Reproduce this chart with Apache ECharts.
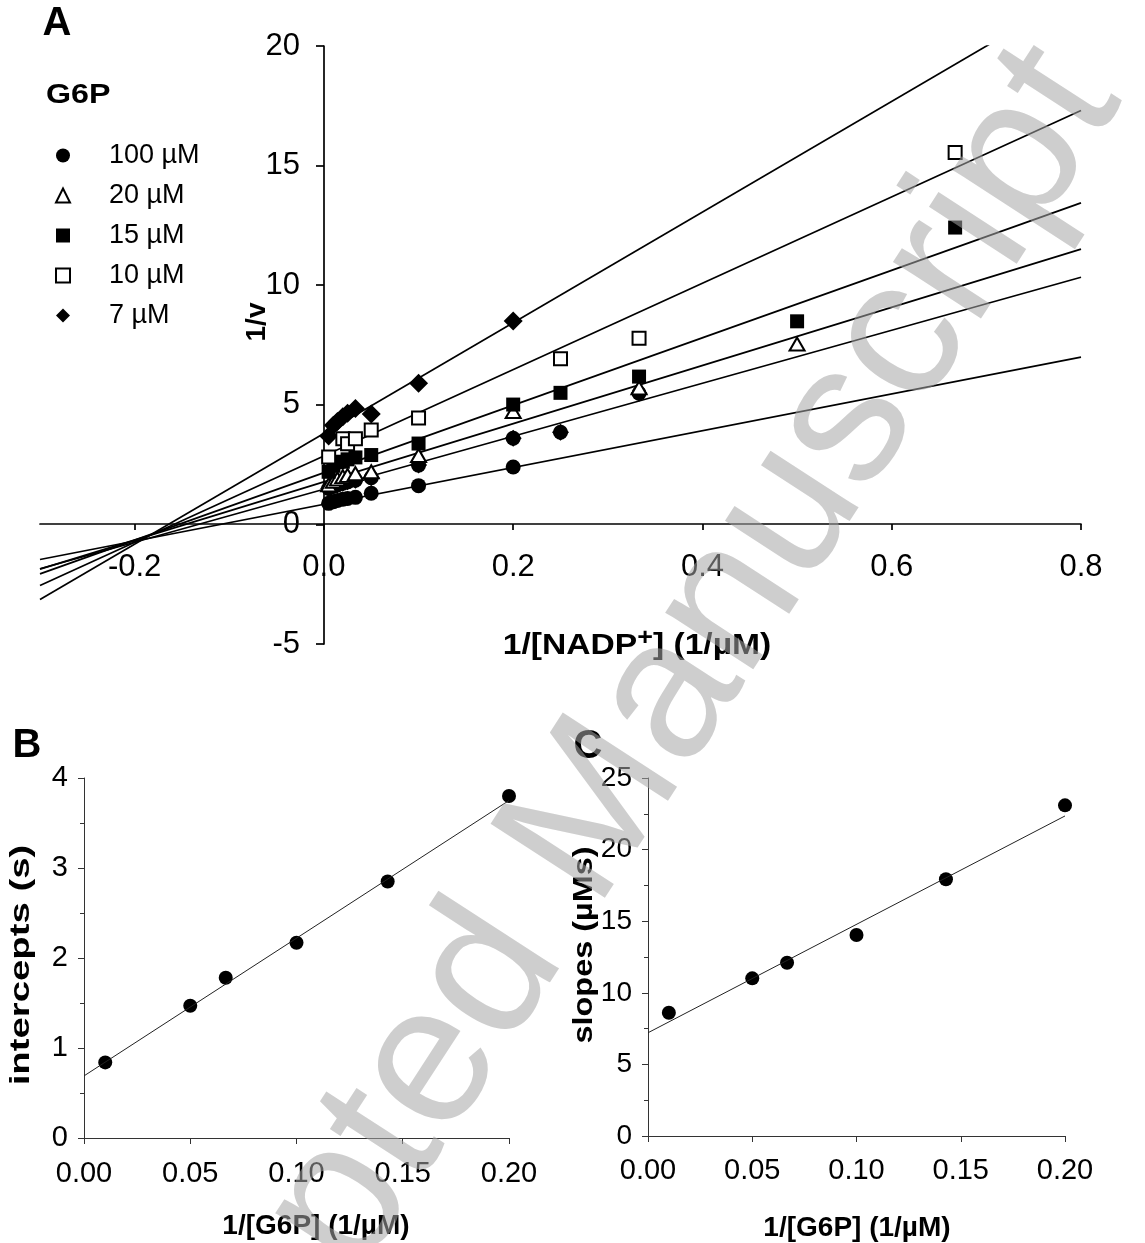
<!DOCTYPE html>
<html><head><meta charset="utf-8">
<script src="https://cdn.jsdelivr.net/npm/echarts@6/dist/echarts.min.js"></script>
<style>html,body{margin:0;padding:0;background:#fff}#c{width:1145px;height:1243px}</style>
</head><body><div id="c"></div>
<script>
// ---------- Panel A data: 1/[NADP+] vs 1/v ----------
const legendNames = ['100 µM', '20 µM', '15 µM', '10 µM', '7 µM'];
const circle100 = [[0.005,0.88],[0.01,0.95],[0.0143,1.0],[0.02,1.05],[0.025,1.08],[0.0333,1.13],[0.05,1.3],[0.1,1.62],[0.2,2.4]];
const unlabelled = [[0.005,1.5],[0.01,1.6],[0.0143,1.65],[0.02,1.72],[0.025,1.78],[0.0333,1.85],[0.05,1.95],[0.1,2.48],[0.2,3.6],[0.25,3.85],[0.333,5.48]];
const triangle20 = [[0.005,1.65],[0.01,1.8],[0.0143,1.9],[0.02,2.0],[0.025,2.05],[0.0333,2.12],[0.05,2.2],[0.1,2.88],[0.2,4.72],[0.333,5.71],[0.5,7.54]];
const square15 = [[0.005,2.2],[0.01,2.45],[0.0143,2.6],[0.02,2.62],[0.025,2.72],[0.0333,2.8],[0.05,2.9],[0.1,3.38],[0.2,5.01],[0.25,5.5],[0.333,6.18],[0.5,8.49],[0.667,12.41]];
const openSquare10 = [[0.005,2.82],[0.02,3.58],[0.025,3.37],[0.0333,3.58],[0.05,3.95],[0.1,4.45],[0.25,6.92],[0.333,7.78],[0.667,15.55]];
const diamond7 = [[0.005,3.7],[0.01,4.15],[0.0143,4.3],[0.02,4.5],[0.025,4.65],[0.0333,4.85],[0.05,4.62],[0.1,5.9],[0.2,8.5]];
// fitted lines in panel A (intercept, slope)
const lineIntercepts = [0.84, 1.47, 1.78, 2.16, 2.86, 3.8];
const lineSlopes = [7.69, 11.08, 12.16, 14.1, 18.05, 23.14];
const lineXRange = [-0.3, 0.8];
const xTicksA = [-0.2, 0, 0.2, 0.4, 0.6, 0.8];

// ---------- Panels B and C ----------
const g6pInv = [0.01, 0.05, 0.0667, 0.1, 0.1429, 0.2];
const interceptsB = [0.84, 1.47, 1.78, 2.17, 2.85, 3.80];
const slopesC = [8.61, 11.01, 12.1, 14.04, 17.93, 23.09];
const fitB = [0.69, 15.3];   // intercept, slope
const fitC = [7.21, 75.7];
const fitXRange = [0, 0.2];

const FONT = '"Liberation Sans", Arial, sans-serif';
const lineOf = (a, s, xr) => xr.map(x => [x, a + s * x]);
const pairs = (xs, ys) => xs.map((x, i) => [x, ys[i]]);
const axisTxt = (size) => ({ color: '#000', fontSize: size, fontFamily: FONT });

const series = [];
lineIntercepts.forEach((a, i) => {
  series.push({ type: 'line', xAxisIndex: 0, yAxisIndex: 0, data: lineOf(a, lineSlopes[i], lineXRange),
    symbol: 'none', silent: true, clip: true, z: 2, lineStyle: { color: '#000', width: 1.7 } });
});
const black = { color: '#000', opacity: 1 };
const openSt = { color: '#fff', borderColor: '#000', borderWidth: 2, opacity: 1 };
series.push({ name: '100 µM', type: 'scatter', xAxisIndex: 0, yAxisIndex: 0, data: circle100, symbol: 'circle', symbolSize: 15, itemStyle: black, z: 3 });
series.push({ name: 'unlabelled', type: 'scatter', xAxisIndex: 0, yAxisIndex: 0, data: unlabelled, symbol: 'circle', symbolSize: 15, itemStyle: black, z: 3 });
series.push({ name: 'unlabelled2', type: 'scatter', xAxisIndex: 0, yAxisIndex: 0, data: unlabelled, symbol: 'diamond', symbolSize: 17, itemStyle: black, z: 3 });
series.push({ name: '20 µM', type: 'scatter', xAxisIndex: 0, yAxisIndex: 0, data: triangle20, symbol: 'triangle', symbolSize: [15, 13], itemStyle: openSt, z: 3 });
series.push({ name: '15 µM', type: 'scatter', xAxisIndex: 0, yAxisIndex: 0, data: square15, symbol: 'rect', symbolSize: 14, itemStyle: black, z: 3 });
series.push({ name: '7 µM', type: 'scatter', xAxisIndex: 0, yAxisIndex: 0, data: diamond7, symbol: 'diamond', symbolSize: 19, itemStyle: black, z: 3 });
series.push({ name: '10 µM', type: 'scatter', xAxisIndex: 0, yAxisIndex: 0, data: openSquare10, symbol: 'rect', symbolSize: 13, itemStyle: openSt, z: 3 });

series.push({ type: 'line', xAxisIndex: 3, yAxisIndex: 3, data: lineOf(fitB[0], fitB[1], fitXRange), symbol: 'none', silent: true, lineStyle: { color: '#222', width: 1 } });
series.push({ type: 'scatter', xAxisIndex: 3, yAxisIndex: 3, data: pairs(g6pInv, interceptsB), symbol: 'circle', symbolSize: 14, itemStyle: black });
series.push({ type: 'line', xAxisIndex: 4, yAxisIndex: 4, data: lineOf(fitC[0], fitC[1], fitXRange), symbol: 'none', silent: true, lineStyle: { color: '#222', width: 1 } });
series.push({ type: 'scatter', xAxisIndex: 4, yAxisIndex: 4, data: pairs(g6pInv, slopesC), symbol: 'circle', symbolSize: 14, itemStyle: black });

const smallAxisLine = { lineStyle: { color: '#333', width: 1 } };
const hidden = { show: false };
const txt = (x, y, text, size, opts) => Object.assign({ type: 'text', x, y, style: Object.assign({ text, fill: '#000',
  font: 'bold ' + size + 'px ' + FONT, textAlign: 'center', textVerticalAlign: 'middle' }, (opts && opts.style) || {}) }, (opts && opts.el) || {});

const option = {
  backgroundColor: '#fff',
  animation: false,
  grid: [
    { left: 40, right: 64, top: 46, bottom: 599, outerBoundsMode: 'none' },   // A data
    { left: 40, right: 64, top: 46, bottom: 719, outerBoundsMode: 'none' },   // A x-axis at y = 0
    { left: 324, right: 64, top: 46, bottom: 599, outerBoundsMode: 'none' },  // A y-axis at x = 0
    { left: 84, top: 778, width: 425, height: 360, outerBoundsMode: 'none' }, // B
    { left: 648, top: 778, width: 417, height: 358, outerBoundsMode: 'none' } // C
  ],
  legend: {
    data: legendNames, orient: 'vertical', left: 50, top: 137, itemWidth: 14, itemHeight: 14, itemGap: 13,
    selectedMode: false,
    textStyle: { fontSize: 27, fontFamily: FONT, color: '#000', lineHeight: 26, padding: [0, 0, 0, 34] }
  },
  xAxis: [
    { gridIndex: 0, type: 'value', min: -0.3, max: 0.8, show: false },
    { gridIndex: 1, type: 'value', min: -0.3, max: 0.8,
      axisLine: { onZero: false, lineStyle: { color: '#000', width: 1.7 } },
      axisTick: { customValues: xTicksA, length: 6, lineStyle: { color: '#000', width: 1.7 } },
      axisLabel: Object.assign(axisTxt(31), { customValues: xTicksA, margin: 28, formatter: v => v.toFixed(1) }),
      splitLine: hidden },
    { gridIndex: 2, type: 'value', min: 0, max: 0.8, show: false },
    { gridIndex: 3, type: 'value', min: 0, max: 0.2, interval: 0.05,
      axisLine: smallAxisLine, axisTick: { length: 6, lineStyle: { color: '#333' } },
      axisLabel: Object.assign(axisTxt(29), { margin: 21, formatter: v => v.toFixed(2) }), splitLine: hidden },
    { gridIndex: 4, type: 'value', min: 0, max: 0.2, interval: 0.05,
      axisLine: smallAxisLine, axisTick: { length: 6, lineStyle: { color: '#333' } },
      axisLabel: Object.assign(axisTxt(29), { margin: 20, formatter: v => v.toFixed(2) }), splitLine: hidden }
  ],
  yAxis: [
    { gridIndex: 0, type: 'value', min: -5, max: 20, show: false },
    { gridIndex: 1, type: 'value', min: 0, max: 20, show: false },
    { gridIndex: 2, type: 'value', min: -5, max: 20, interval: 5,
      axisLine: { show: true, onZero: false, lineStyle: { color: '#000', width: 1.7 } },
      axisTick: { show: true, length: 8, lineStyle: { color: '#000', width: 1.7 } },
      axisLabel: Object.assign(axisTxt(31), { margin: 24 }), splitLine: hidden },
    { gridIndex: 3, type: 'value', min: 0, max: 4, interval: 1,
      axisLine: Object.assign({ show: true }, smallAxisLine), axisTick: { show: true, length: 6, lineStyle: { color: '#333' } },
      minorTick: { show: true, splitNumber: 2, length: 4, lineStyle: { color: '#333' } },
      axisLabel: Object.assign(axisTxt(29), { margin: 16 }), splitLine: hidden },
    { gridIndex: 4, type: 'value', min: 0, max: 25, interval: 5,
      axisLine: Object.assign({ show: true }, smallAxisLine), axisTick: { show: true, length: 6, lineStyle: { color: '#333' } },
      minorTick: { show: true, splitNumber: 2, length: 4, lineStyle: { color: '#333' } },
      axisLabel: Object.assign(axisTxt(28), { margin: 16 }), splitLine: hidden }
  ],
  graphic: [
    txt(57, 24, 'A', 40),
    txt(27, 746, 'B', 40),
    txt(588, 747, 'C', 40),
    txt(46, 95, 'G6P', 28, { style: { textAlign: 'left' }, el: { scaleX: 1.15 } }),
    { type: 'text', x: 637, y: 646, scaleX: 1.12, style: { text: '1/[NADP{sup|+}] (1/µM)', fill: '#000', font: 'bold 30px ' + FONT,
      textAlign: 'center', textVerticalAlign: 'middle',
      rich: { sup: { font: 'bold 24px ' + FONT, fill: '#000', verticalAlign: 'top', padding: [0, 0, 16, 0] } } } },
    txt(257, 322, '1/v', 28, { el: { rotation: Math.PI / 2 } }),
    txt(316, 1226, '1/[G6P] (1/µM)', 28),
    txt(857, 1228, '1/[G6P] (1/µM)', 28),
    txt(22, 965, 'intercepts (s)', 27, { el: { rotation: Math.PI / 2, scaleX: 1.42 } }),
    txt(585, 945, 'slopes (µMs)', 27, { el: { rotation: Math.PI / 2, scaleX: 1.2 } }),
    { type: 'text', x: 574, y: 845, rotation: 57 * Math.PI / 180, z: 100, silent: true,
      style: { text: 'Accepted Manuscript', fill: 'rgba(165,165,165,0.55)', font: '198px ' + FONT,
        textAlign: 'center', textVerticalAlign: 'middle' } }
  ],
  series
};
const chart = echarts.init(document.getElementById('c'), null, { renderer: 'canvas' });
chart.setOption(option);
</script></body></html>
